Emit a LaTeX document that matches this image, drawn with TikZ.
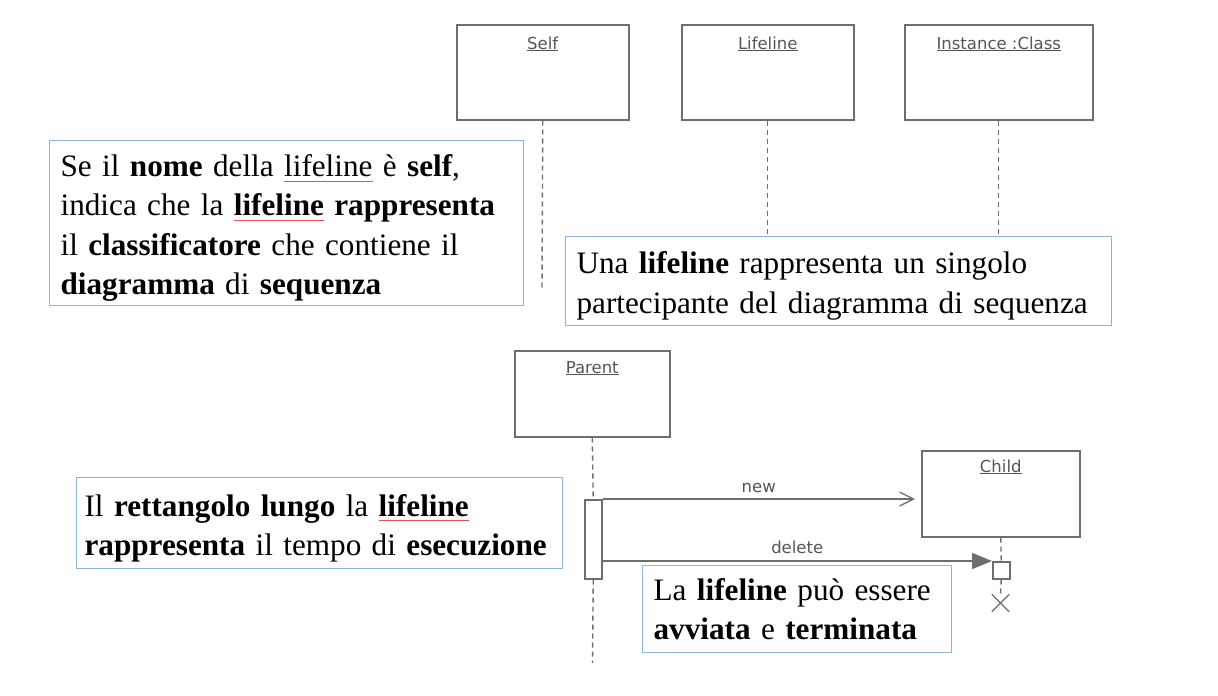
\documentclass[tikz,border=0pt]{standalone}
\usepackage{fontspec}
\setmainfont{Liberation Serif}
\newfontfamily\umlfont{DejaVu Sans}
\usetikzlibrary{arrows.meta,shapes.misc}
\definecolor{umlgray}{HTML}{6E6E6E}
\definecolor{umltext}{HTML}{555555}
\definecolor{noteblue}{HTML}{8DB3E2}
\definecolor{spellred}{HTML}{E85050}
\newcommand\spellmark[1]{\leavevmode\setbox0\hbox{#1}\rlap{\textcolor{spellred}{\rule[-5pt]{\wd0}{0.8pt}}}\box0\relax}
\newcommand\topstrut{\rule{0pt}{32pt}}
\begin{document}
\begin{tikzpicture}[x=1pt,y=-1pt,
  obj/.style={draw=umlgray, line width=1.5pt, fill=white, inner sep=0pt, anchor=north west},
  umllbl/.style={font=\umlfont\fontsize{16.5}{19}\selectfont, text=umltext, inner sep=0pt, anchor=base},
  life/.style={draw=umlgray, line width=1.4pt, dash pattern=on 5pt off 4pt},
  msg/.style={draw=umlgray, line width=1.5pt},
  note/.style={draw=noteblue, line width=1.2pt, fill=white, align=left, inner xsep=11pt, inner ysep=0pt, anchor=north west, font=\fontsize{31.2}{39.5}\selectfont},
]
\useasboundingbox (0,0) rectangle (1218,696);
\fill[white] (0,0) rectangle (1218,696);

% top objects
\node[obj, minimum width=172pt, minimum height=95pt] (self) at (456,24) {};
\node[umllbl] (selflbl) at ([yshift=-25pt]self.north) {\underline{Self}};
\node[obj, minimum width=172pt, minimum height=95pt] (lifeline) at (681,24) {};
\node[umllbl] (lifelbl) at ([yshift=-25pt]lifeline.north) {\underline{Lifeline}};
\node[obj, minimum width=188pt, minimum height=95pt] (inst) at (904,24) {};
\node[umllbl] (instlbl) at ([yshift=-25pt]inst.north) {\underline{Instance :Class}};

% notes
\node[note, text width=452pt, minimum width=474pt, minimum height=165pt] (note1) at (49,140)
 {\topstrut Se il \textbf{nome} della \spellmark{lifeline} è \textbf{self},\\
  indica che la \textbf{\spellmark{lifeline} rappresenta}\\
  il \textbf{classificatore} che contiene il\\
  \textbf{diagramma} di \textbf{sequenza}};
\node[note, text width=524pt, minimum width=546pt, minimum height=89pt] (note2) at (565,236)
 {\topstrut Una \textbf{lifeline} rappresenta un singolo\\
  partecipante del diagramma di sequenza};

\coordinate (selfend) at (542,290);
\draw[life] (self.south) -- (selfend);
\draw[life] (lifeline.south) -- (lifeline.south |- note2.north);
\draw[life] (inst.south) -- (inst.south |- note2.north);

% bottom part
\node[obj, minimum width=155pt, minimum height=86pt] (parent) at (514,350) {};
\node[umllbl] (parentlbl) at ([yshift=-23pt]parent.north) {\underline{Parent}};
\node[obj, minimum width=158pt, minimum height=86pt] (child) at (921,450) {};
\node[umllbl] (childlbl) at ([yshift=-22pt]child.north) {\underline{Child}};
\node[obj, minimum width=17pt, minimum height=79pt] (act) at (584,499) {};
\node[obj, minimum width=17pt, minimum height=17pt] (kill) at (992,561) {};
\node[draw=umlgray, line width=1.3pt, cross out, minimum size=16pt, inner sep=0pt] (xmark) at (1000.5,603) {};
\coordinate (parentend) at (592.5,663);
\coordinate (newend) at ([xshift=-6pt]child.west |- act.north east);

\draw[life] (parent.south) -- (act.north);
\draw[life] (act.south) -- (parentend);
\draw[life] (child.south) -- (kill.north);
\draw[life] (kill.south) -- (xmark.north);

\draw[msg, -{Straight Barb[length=14pt,width=14pt,line width=1.3pt]}] (act.north east) -- node[umllbl, yshift=7pt] (newlbl) {new} (newend);
\draw[msg, -{Triangle[length=20pt,width=16pt]}] (act.east |- kill.north west) -- node[umllbl, yshift=8pt] (dellbl) {delete} (kill.north west);

\node[note, inner xsep=8pt, text width=470pt, minimum width=486pt, minimum height=91pt] (note3) at (76,477)
 {\topstrut Il \textbf{rettangolo lungo} la \textbf{\spellmark{lifeline}}\\
  \textbf{rappresenta} il tempo di \textbf{esecuzione}};
\node[note, text width=287pt, minimum width=309pt, minimum height=87pt] (note4) at (642,565)
 {La \textbf{lifeline} può essere\\
  \textbf{avviata} e \textbf{terminata}};
\end{tikzpicture}
\end{document}
